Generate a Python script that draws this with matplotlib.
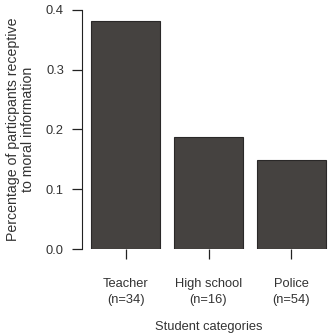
import matplotlib
matplotlib.use("Agg")
import matplotlib.pyplot as plt

plt.rcParams['font.family'] = ['Liberation Sans', 'DejaVu Sans']

categories = ["Teacher\n(n=34)", "High school\n(n=16)", "Police\n(n=54)"]
values = [13 / 34, 3 / 16, 8 / 54]
yticks = [0.0, 0.1, 0.2, 0.3, 0.4]

W, H = 330, 336
fig = plt.figure(figsize=(W / 100, H / 100), dpi=100)
# axes box in pixels: left 82, right ~335, top 10, bottom 249
ax = fig.add_axes([82 / W, (H - 249) / H, (335 - 82) / W, (249 - 10) / H])

# R barplot style positions: width 1, space 0.2
pos = [0.7 + 1.2 * i for i in range(len(values))]
ax.bar(pos, values, width=1.0, color="#454240", edgecolor="#2a2828", linewidth=0.8)

ax.set_xlim(0.064, 3.736)
ax.set_ylim(0, 0.4)
ax.set_yticks(yticks)
ax.set_yticklabels(["%.1f" % t for t in yticks])
ax.set_xticks(pos)
ax.set_xticklabels(categories, linespacing=1.45)

for s in ["top", "right", "bottom"]:
    ax.spines[s].set_visible(False)
ax.spines["left"].set_color("#222222")
ax.tick_params(axis="y", length=7, width=0.9, colors="#222222", labelcolor="#333333",
               labelsize=9.3, pad=6)
ax.tick_params(axis="x", length=7, width=0.9, colors="#222222", labelcolor="#333333",
               labelsize=9.3, pad=14)

ax.set_ylabel("Percentage of particpants receptive\nto moral information",
              fontsize=10.2, color="#333333", labelpad=8, linespacing=1.05)
ax.set_xlabel("Student categories", fontsize=9.3, color="#333333", labelpad=11)

fig.savefig("out.png", dpi=100)
